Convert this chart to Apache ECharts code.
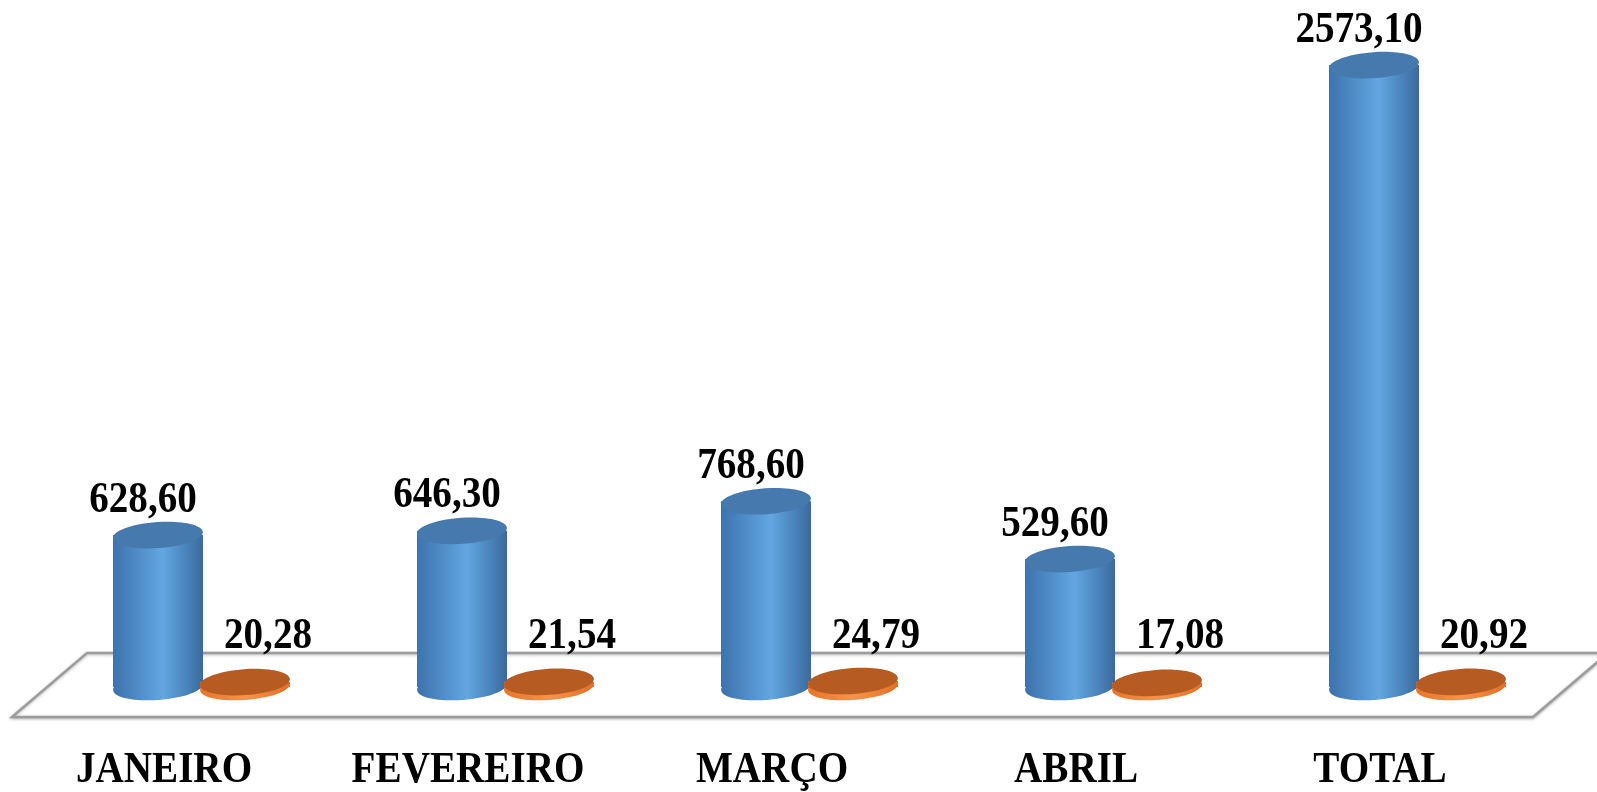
<!DOCTYPE html>
<html>
<head>
<meta charset="utf-8">
<script src="https://cdn.jsdelivr.net/npm/echarts@6/dist/echarts.min.js"></script>
<style>
    html, body { margin: 0; padding: 0; background: #fff; }
    #main { width: 1597px; height: 792px; }
</style>
</head>
<body>
<div id="main"></div>
<script>
// dados do gráfico
const categorias = ['JANEIRO', 'FEVEREIRO', 'MARÇO', 'ABRIL', 'TOTAL'];
const valoresAzul = [628.60, 646.30, 768.60, 529.60, 2573.10];
const valoresLaranja = [20.28, 21.54, 24.79, 17.08, 20.92];

const fonte = '"Liberation Serif", "Times New Roman", serif';
const raioX = 45;   // metade da largura do cilindro
const raioY = 13;   // achatamento da elipse
const inclinacao = 0.07;
const estreito = 0.87; // texto do original é condensado

function formatar(v) {
    return v.toFixed(2).replace('.', ',');
}

function texto(str, x, y, tamanho) {
    return {
        type: 'text',
        x: x,
        y: y,
        scaleX: estreito,
        style: {
            text: str,
            font: 'bold ' + tamanho + 'px ' + fonte,
            fill: '#000',
            align: 'center',
            verticalAlign: 'middle'
        }
    };
}

// desenha um cilindro 3D (corpo + elipses)
function cilindro(cx, yTopo, yBase, cores) {
    var lado = {
        type: 'linear', x: 0, y: 0, x2: 1, y2: 0,
        colorStops: cores.lado
    };
    return [
        {
            type: 'ellipse',
            shape: { cx: cx, cy: yBase, rx: raioX, ry: raioY },
            rotation: inclinacao, originX: cx, originY: yBase,
            style: { fill: lado }
        },
        {
            type: 'rect',
            shape: { x: cx - raioX, y: yTopo, width: raioX * 2, height: Math.max(yBase - yTopo, 0) },
            style: { fill: lado }
        },
        {
            type: 'ellipse',
            shape: { cx: cx, cy: yTopo, rx: raioX, ry: raioY },
            rotation: inclinacao, originX: cx, originY: yTopo,
            style: { fill: cores.topo }
        }
    ];
}

function serieCilindro(nome, valores, deslocX, cores, rotulo) {
    return {
        type: 'custom',
        name: nome,
        data: valores.map((v, i) => [i, v]),
        renderItem: function (params, api) {
            var idx = api.value(0);
            var val = api.value(1);
            var topo = api.coord([idx, val]);
            var base = api.coord([idx, 0]);
            var cx = topo[0] + deslocX;
            var filhos = cilindro(cx, topo[1], base[1], cores);
            var y = rotulo.fixo ? base[1] + rotulo.dy : topo[1] + rotulo.dy;
            filhos.push(texto(formatar(val), cx + rotulo.dx, y, 45));
            if (rotulo.categoria) {
                // nome do mês abaixo do piso
                filhos.push(texto(categorias[idx], topo[0] - 37, base[1] + 83, 45));
            }
            return { type: 'group', children: filhos };
        }
    };
}

var chart = echarts.init(document.getElementById('main'));

var option = {
    backgroundColor: '#fff',
    animation: false,
    grid: { left: 49, right: 28, top: 58.6, bottom: 105 },
    xAxis: {
        type: 'category',
        data: categorias,
        axisLine: { show: false },
        axisTick: { show: false },
        splitLine: { show: false },
        axisLabel: { show: false }
    },
    yAxis: {
        type: 'value',
        min: 0,
        max: 2600,
        show: false,
        splitLine: { show: false }
    },
    graphic: [
        {
            // piso do gráfico
            type: 'polygon',
            z: -1,
            shape: { points: [[87, 653], [1608, 653], [1533, 717], [12, 717]] },
            style: {
                fill: '#fff', stroke: '#9c9c9c', lineWidth: 2.5,
                shadowBlur: 3, shadowColor: 'rgba(0,0,0,0.25)', shadowOffsetY: 1
            }
        }
    ],
    series: [
        serieCilindro('Azul', valoresAzul, -43, {
            lado: [
                { offset: 0, color: '#3d72ad' },
                { offset: 0.55, color: '#62a6e2' },
                { offset: 1, color: '#3a6a9e' }
            ],
            topo: '#4679ad'
        }, { dx: -15, dy: -35, fixo: false, categoria: true }),
        serieCilindro('Laranja', valoresLaranja, 44, {
            lado: [
                { offset: 0, color: '#e8742a' },
                { offset: 0.5, color: '#f79448' },
                { offset: 1, color: '#e27028' }
            ],
            topo: '#b65b22'
        }, { dx: 23, dy: -51, fixo: true })
    ]
};

chart.setOption(option);
window.onresize = function () {
    chart.resize();
};
</script>
</body>
</html>
